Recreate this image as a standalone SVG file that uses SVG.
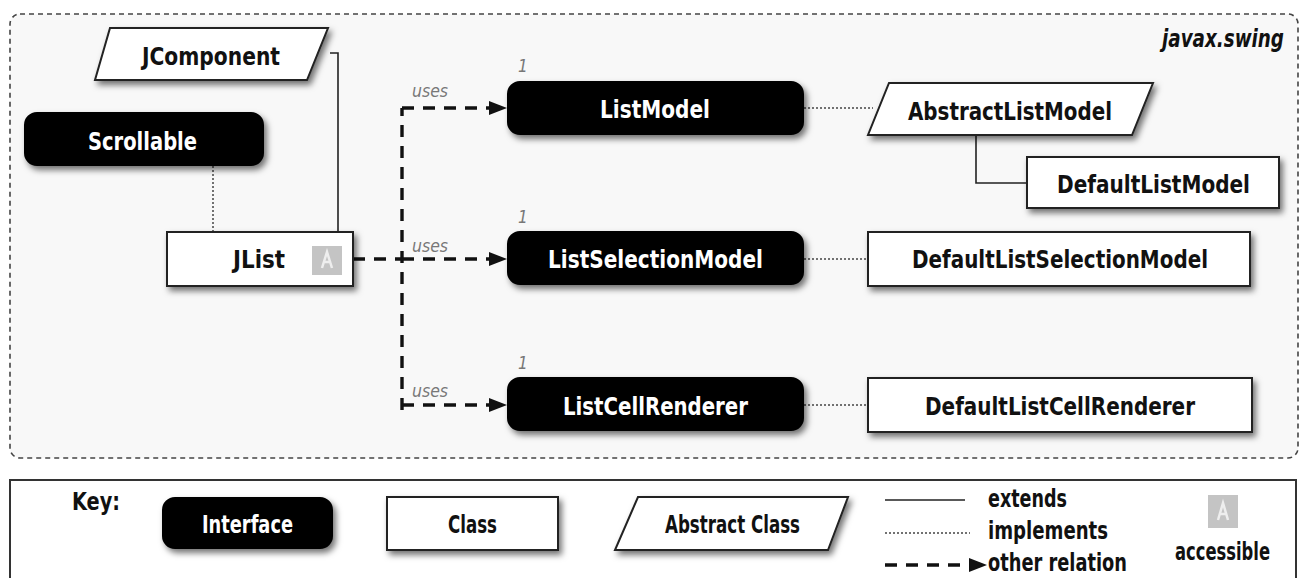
<svg xmlns="http://www.w3.org/2000/svg" width="1303" height="578" viewBox="0 0 1303 578">
<defs>
<filter id="sh" x="-10%" y="-20%" width="130%" height="160%">
<feDropShadow dx="3" dy="4" stdDeviation="3" flood-color="#000" flood-opacity="0.55"/>
</filter>
<marker id="ah" viewBox="0 0 18 14" refX="18" refY="7" markerWidth="18" markerHeight="14" markerUnits="userSpaceOnUse" orient="auto">
<path d="M0,0 L18,7 L0,14 z" fill="#111"/>
</marker>
<style>
.t{font-family:"Liberation Sans Narrow","DejaVu Sans Condensed","Liberation Sans",sans-serif;font-weight:bold;font-size:24px;fill:#111}
.w{fill:#fff}
.i{font-family:"Liberation Sans Narrow","DejaVu Sans Condensed","Liberation Sans",sans-serif;font-style:italic;font-size:17px;fill:#777}
.iface{fill:#000;stroke:#000;stroke-width:2;filter:url(#sh)}
.cls{fill:#fff;stroke:#222;stroke-width:2;filter:url(#sh)}
.ext{fill:none;stroke:#222;stroke-width:1.6}
.impl{fill:none;stroke:#444;stroke-width:1.5;stroke-dasharray:2 2}
.uses{fill:none;stroke:#111;stroke-width:3.4;stroke-dasharray:12 9}
.acc{fill:#c4c4c4}
</style>
</defs>
<rect width="1303" height="578" fill="#fff"/>
<rect x="10" y="14" width="1288" height="444" rx="10" fill="#f8f8f8" stroke="#444" stroke-width="1.6" stroke-dasharray="5 4"/>
<text x="1284" y="47" text-anchor="end" class="t" font-style="italic" textLength="122" lengthAdjust="spacingAndGlyphs">javax.swing</text>

<g id="connectors">
<path class="ext" d="M330,53 H338 V232"/>
<path class="impl" d="M213,166 V232"/>
<path class="uses" d="M353,259 H402"/>
<path class="uses" d="M402,410 V108"/>
<path class="uses" d="M402,108 H507" marker-end="url(#ah)"/>
<path class="uses" d="M402,259 H507" marker-end="url(#ah)"/>
<path class="uses" d="M402,405 H507" marker-end="url(#ah)"/>
<path class="impl" d="M804,108 H873"/>
<path class="impl" d="M804,259 H868"/>
<path class="impl" d="M804,405 H868"/>
<path class="ext" d="M976,135 V183 H1027"/>
<text class="i" x="412" y="97" textLength="36" lengthAdjust="spacingAndGlyphs">uses</text>
<text class="i" x="412" y="252" textLength="36" lengthAdjust="spacingAndGlyphs">uses</text>
<text class="i" x="412" y="397" textLength="36" lengthAdjust="spacingAndGlyphs">uses</text>
<text class="i" x="518" y="72">1</text>
<text class="i" x="518" y="223">1</text>
<text class="i" x="518" y="369">1</text>
</g>

<g id="JComponent">
<polygon class="cls" points="110,28 328,28 307,80 95,80"/>
<text class="t" x="142" y="65" textLength="138" lengthAdjust="spacingAndGlyphs">JComponent</text>
</g>
<g id="Scrollable">
<rect class="iface" x="25" y="113" width="238" height="52" rx="12"/>
<text class="t w" x="88" y="150" textLength="109" lengthAdjust="spacingAndGlyphs">Scrollable</text>
</g>
<g id="JList">
<rect class="cls" x="167" y="232" width="186" height="54"/>
<text class="t" x="233" y="268" textLength="52" lengthAdjust="spacingAndGlyphs">JList</text>
<rect class="acc" x="312" y="246" width="30" height="29"/>
<path d="M322,268 L327,252 L332,268 M324,262 H330" stroke="#eee" stroke-width="2.5" fill="none"/>
</g>
<g id="ListModel">
<rect class="iface" x="508" y="82" width="295" height="52" rx="12"/>
<text class="t w" x="600" y="118" textLength="110" lengthAdjust="spacingAndGlyphs">ListModel</text>
</g>
<g id="ListSelectionModel">
<rect class="iface" x="508" y="232" width="295" height="52" rx="12"/>
<text class="t w" x="548" y="268" textLength="215" lengthAdjust="spacingAndGlyphs">ListSelectionModel</text>
</g>
<g id="ListCellRenderer">
<rect class="iface" x="508" y="378" width="295" height="52" rx="12"/>
<text class="t w" x="563" y="415" textLength="185" lengthAdjust="spacingAndGlyphs">ListCellRenderer</text>
</g>
<g id="AbstractListModel">
<polygon class="cls" points="889,83 1153,83 1132,135 868,135"/>
<text class="t" x="908" y="120" textLength="204" lengthAdjust="spacingAndGlyphs">AbstractListModel</text>
</g>
<g id="DefaultListModel">
<rect class="cls" x="1027" y="157" width="252" height="51"/>
<text class="t" x="1057" y="193" textLength="193" lengthAdjust="spacingAndGlyphs">DefaultListModel</text>
</g>
<g id="DefaultListSelectionModel">
<rect class="cls" x="868" y="232" width="382" height="54"/>
<text class="t" x="912" y="268" textLength="296" lengthAdjust="spacingAndGlyphs">DefaultListSelectionModel</text>
</g>
<g id="DefaultListCellRenderer">
<rect class="cls" x="868" y="378" width="384" height="54"/>
<text class="t" x="925" y="415" textLength="270" lengthAdjust="spacingAndGlyphs">DefaultListCellRenderer</text>
</g>

<g id="key">
<rect x="10" y="480" width="1286" height="110" fill="#fff" stroke="#333" stroke-width="2"/>
<text class="t" x="72" y="510" textLength="48" lengthAdjust="spacingAndGlyphs">Key:</text>
<rect class="iface" x="163" y="498" width="169" height="50" rx="12"/>
<text class="t w" x="202" y="533" font-size="22" textLength="91" lengthAdjust="spacingAndGlyphs">Interface</text>
<rect class="cls" x="387" y="497" width="171" height="53"/>
<text class="t" x="448" y="533" font-size="22" textLength="49" lengthAdjust="spacingAndGlyphs">Class</text>
<polygon class="cls" points="638,497 848,497 828,550 615,550"/>
<text class="t" x="665" y="533" font-size="22" textLength="135" lengthAdjust="spacingAndGlyphs">Abstract Class</text>
<path class="ext" d="M885,500 H965"/>
<path class="impl" d="M885,533 H970"/>
<path class="uses" d="M885,565 H987" stroke-width="3" marker-end="url(#ah)"/>
<text class="t" x="988" y="507" font-size="22" textLength="79" lengthAdjust="spacingAndGlyphs">extends</text>
<text class="t" x="988" y="539" font-size="22" textLength="120" lengthAdjust="spacingAndGlyphs">implements</text>
<text class="t" x="988" y="571" font-size="22" textLength="139" lengthAdjust="spacingAndGlyphs">other relation</text>
<rect class="acc" x="1208" y="495" width="30" height="33"/>
<path d="M1218,520 L1223,503 L1228,520 M1220,514 H1226" stroke="#eee" stroke-width="2.5" fill="none"/>
<text class="t" x="1175" y="560" font-size="22" textLength="95" lengthAdjust="spacingAndGlyphs">accessible</text>
</g>
</svg>
